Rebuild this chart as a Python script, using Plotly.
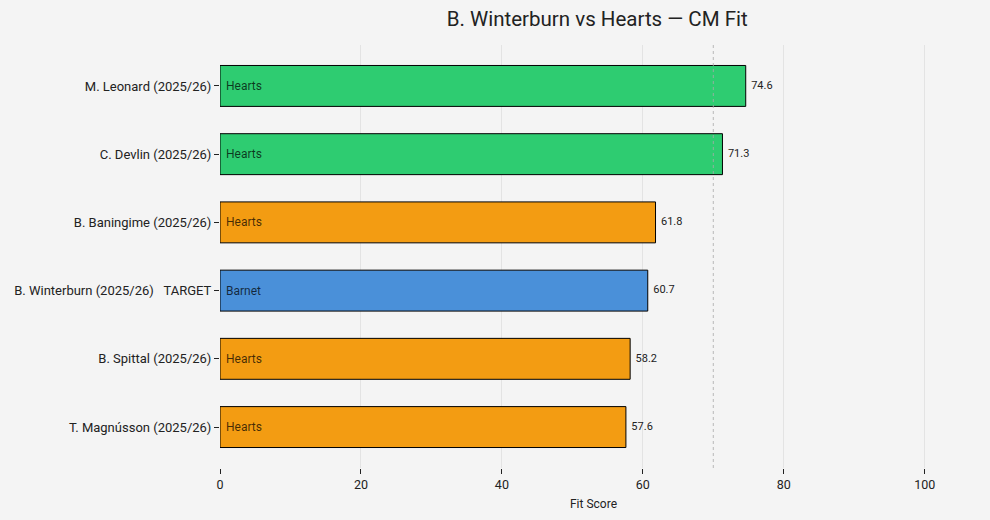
import plotly.graph_objects as go

# Data for the chart (top to bottom)
players = [
    "M. Leonard (2025/26)",
    "C. Devlin (2025/26)",
    "B. Baningime (2025/26)",
    "B. Winterburn (2025/26)\u00a0\u00a0\u00a0TARGET",
    "B. Spittal (2025/26)",
    "T. Magnússon (2025/26)",
]
teams = ["Hearts", "Hearts", "Hearts", "Barnet", "Hearts", "Hearts"]
scores = [74.6, 71.3, 61.8, 60.7, 58.2, 57.6]
threshold = 70

# green for strong fits, orange for the rest, blue for the target player
colors = []
for team, s in zip(teams, scores):
    if team == "Barnet":
        colors.append("#4a90d9")
    elif s >= threshold:
        colors.append("#2ecc71")
    else:
        colors.append("#f39c12")

font_family = "Roboto, 'Noto Sans', sans-serif"

fig = go.Figure()

fig.add_trace(go.Bar(
    x=scores,
    y=players,
    orientation="h",
    width=0.6,
    marker=dict(color=colors, line=dict(color="black", width=1)),
    text=["\u00a0" + t for t in teams],
    textposition="inside",
    insidetextanchor="start",
    textfont=dict(color="rgba(0,0,0,0.72)", size=12, family=font_family),
    hoverinfo="skip",
    showlegend=False,
))

# value labels just past the end of each bar
fig.add_trace(go.Scatter(
    x=scores,
    y=players,
    mode="text",
    text=[f"\u00a0\u00a0{s:.1f}" for s in scores],
    textposition="middle right",
    textfont=dict(color="#222222", size=11, family=font_family),
    hoverinfo="skip",
    showlegend=False,
))

# dashed threshold line
fig.add_vline(x=threshold, line=dict(color="#aaaaaa", width=0.8, dash="dot"))

fig.update_layout(
    width=990,
    height=520,
    paper_bgcolor="#f4f4f4",
    plot_bgcolor="#f4f4f4",
    margin=dict(l=220, r=23, t=45, b=52),
    font=dict(family=font_family, color="#222222", size=12),
    title=dict(
        text="B. Winterburn vs Hearts — CM Fit",
        x=0.505, xref="paper", xanchor="center",
        y=0.963, yanchor="middle",
        font=dict(size=20.5, color="#222222"),
    ),
    xaxis=dict(
        range=[0, 106],
        tickvals=[0, 20, 40, 60, 80, 100],
        showgrid=True,
        gridcolor="#e3e3e3",
        gridwidth=1,
        zeroline=False,
        showline=False,
        ticks="outside",
        ticklen=5,
        tickcolor="#222222",
        tickfont=dict(size=12.5),
        title=dict(text="Fit Score", font=dict(size=12), standoff=8),
    ),
    yaxis=dict(
        range=[5.6, -0.6],
        showgrid=False,
        zeroline=False,
        showline=False,
        ticks="outside",
        ticklen=5,
        tickcolor="#222222",
        tickfont=dict(size=13),
    ),
)

fig.write_html(
    "out.html",
    config={"displayModeBar": False},
    post_script="document.body.style.margin='0';",
)
